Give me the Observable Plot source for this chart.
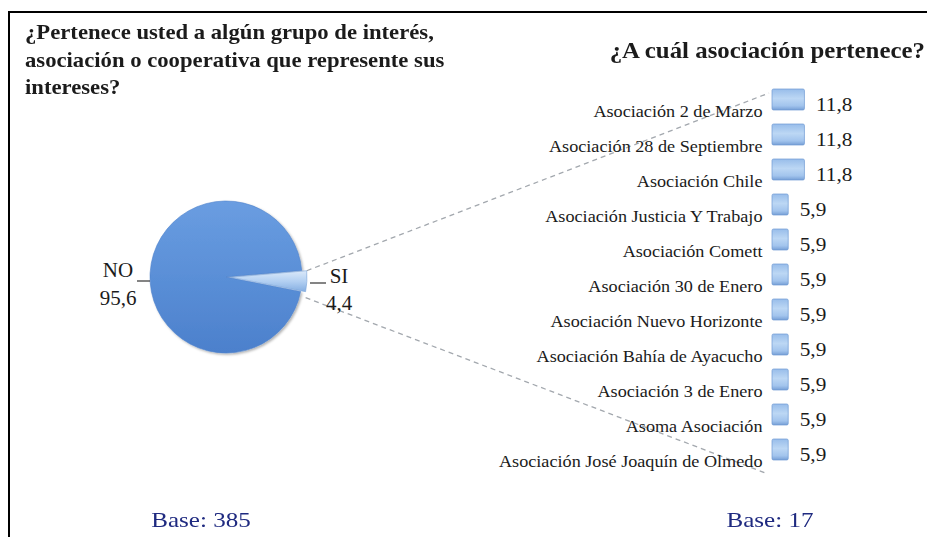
<!DOCTYPE html>
<html>
<head>
<meta charset="utf-8">
<script src="https://cdn.jsdelivr.net/npm/d3@7"></script>
<script src="https://cdn.jsdelivr.net/npm/@observablehq/plot@0.6"></script>
<style>
  html, body { margin: 0; padding: 0; background: #fff; }
  #wrap { position: relative; width: 927px; height: 537px; overflow: hidden; background: #fff; font-family: "Liberation Serif", "DejaVu Serif", "Times New Roman", Tinos, serif; color: #1b1b1b; }
  #frame { position: absolute; left: 8px; top: 11px; width: 960px; height: 560px; border-left: 2px solid #000; border-top: 2px solid #000; }
  #chart { position: absolute; left: 0; top: 0; }
  .t1 { position: absolute; left: 25px; top: 19px; font-weight: bold; font-size: 21px; line-height: 27.5px; white-space: nowrap; transform: scaleX(1.08); transform-origin: 0 0; }
  .t2 { position: absolute; right: 2px; top: 38.7px; font-weight: bold; font-size: 23px; line-height: 1; white-space: nowrap; transform: scaleX(1.08); transform-origin: 100% 0; }
  .base { position: absolute; width: 200px; text-align: center; font-size: 22px; line-height: 1; top: 508.6px; color: #1f2a80; transform: scaleX(1.14); transform-origin: 50% 0; }
</style>
</head>
<body>
<div id="wrap">
  <div id="frame"></div>
  <div id="chart"></div>
  <div class="t1" id="title1"></div>
  <div class="t2" id="title2"></div>
  <div class="base" id="base1" style="left:101px"></div>
  <div class="base" id="base2" style="left:670px"></div>
</div>
<script>
// ---- data ----
const pieLabels = ["NO", "SI"];
const pieValues = [95.6, 4.4];
const categories = [
  "Asociación 2 de Marzo",
  "Asociación 28 de Septiembre",
  "Asociación Chile",
  "Asociación Justicia Y Trabajo",
  "Asociación Comett",
  "Asociación 30 de Enero",
  "Asociación Nuevo Horizonte",
  "Asociación Bahía de Ayacucho",
  "Asociación 3 de Enero",
  "Asoma Asociación",
  "Asociación José Joaquín de Olmedo"
];
const values = [11.8, 11.8, 11.8, 5.9, 5.9, 5.9, 5.9, 5.9, 5.9, 5.9, 5.9];
const titleLeft = ["¿Pertenece usted a algún grupo de interés,", "asociación o cooperativa que represente sus", "intereses?"];
const titleRight = "¿A cuál asociación pertenece?";
const baseLabels = ["Base: 385", "Base: 17"];

// ---- build ----
const FONT = '"Liberation Serif", "DejaVu Serif", "Times New Roman", Tinos, serif';
const fmt = v => d3.format(".1f")(v).replace(".", ",");
const rows = categories.map((name, i) => ({name, value: values[i]}));
const pieData = pieLabels.map((label, i) => ({label, value: pieValues[i]}));

document.getElementById("title1").innerHTML = titleLeft.join("<br>");
document.getElementById("title2").textContent = titleRight;
document.getElementById("base1").textContent = baseLabels[0];
document.getElementById("base2").textContent = baseLabels[1];

// layout of the pie (pixels)
const CX = 226, CY = 277, R = 76, EXPLODE = 5;
const SI_MID = (93 / 180) * Math.PI; // clockwise from 12 o'clock

function defsMark() {
  const g = d3.create("svg:g");
  const defs = g.append("defs");
  const bg = defs.append("linearGradient").attr("id", "barGrad").attr("x1", 0).attr("y1", 0).attr("x2", 0).attr("y2", 1);
  [[0, "#98bdea"], [0.45, "#bcd7f4"], [0.8, "#a2c4ed"], [1, "#769fd6"]].forEach(([o, c]) =>
    bg.append("stop").attr("offset", o).attr("stop-color", c));
  const pg = defs.append("linearGradient").attr("id", "pieGrad").attr("x1", 0).attr("y1", 0).attr("x2", 0).attr("y2", 1);
  [[0, "#6a9de1"], [0.5, "#5a8fd7"], [1, "#4c80cc"]].forEach(([o, c]) =>
    pg.append("stop").attr("offset", o).attr("stop-color", c));
  const sg = defs.append("linearGradient").attr("id", "siGrad").attr("x1", 0).attr("y1", 0).attr("x2", 0).attr("y2", 1);
  [[0, "#dbe9f9"], [0.5, "#b3d0f2"], [1, "#85aee2"]].forEach(([o, c]) =>
    sg.append("stop").attr("offset", o).attr("stop-color", c));
  const f = defs.append("filter").attr("id", "shadow").attr("x", "-20%").attr("y", "-20%").attr("width", "150%").attr("height", "150%");
  f.append("feDropShadow").attr("dx", 1.5).attr("dy", 1.5).attr("stdDeviation", 1.2).attr("flood-color", "#000").attr("flood-opacity", 0.3);
  return g.node();
}

function pieMark(index, scales) {
  const g = d3.create("svg:g");
  const total = d3.sum(pieData, d => d.value);
  const before = pieData[0].value + pieData[1].value / 2;
  const start = SI_MID - (before / total) * 2 * Math.PI;
  const arcs = d3.pie().sort(null).value(d => d.value).startAngle(start).endAngle(start + 2 * Math.PI)(pieData);
  const arc = d3.arc().innerRadius(0).outerRadius(R);
  const si = arcs[1], no = arcs[0];
  const mid = (si.startAngle + si.endAngle) / 2;
  const ex = EXPLODE * Math.sin(mid), ey = -EXPLODE * Math.cos(mid);

  // connectors to the bar panel
  const xs = scales.x, ys = scales.y;
  const bw = (ys && typeof ys.bandwidth === "function") ? ys.bandwidth() : 21;
  const x0 = xs(0);
  const yTop = ys(categories[0]) + 4;
  const yBot = ys(categories[categories.length - 1]) + bw + 14;
  const pt = a => [CX + R * Math.sin(a) + ex, CY - R * Math.cos(a) + ey];
  const pTop = pt(si.startAngle), pBot = pt(si.endAngle);
  g.append("line").attr("x1", pTop[0]).attr("y1", pTop[1]).attr("x2", x0 - 3).attr("y2", yTop)
    .attr("stroke", "#a3a8ae").attr("stroke-width", 1.3).attr("stroke-dasharray", "5,4");
  g.append("line").attr("x1", pBot[0]).attr("y1", pBot[1] + 6).attr("x2", x0 - 4).attr("y2", yBot)
    .attr("stroke", "#a3a8ae").attr("stroke-width", 1.3).attr("stroke-dasharray", "5,4");

  // slices
  g.append("path").attr("d", arc(no)).attr("transform", `translate(${CX},${CY})`)
    .attr("fill", "url(#pieGrad)").attr("stroke", "#4f83cc").attr("stroke-width", 0.6).attr("filter", "url(#shadow)");
  g.append("path").attr("d", arc(si)).attr("transform", `translate(${CX + ex},${CY + ey})`)
    .attr("fill", "url(#siGrad)").attr("stroke", "#7ea6da").attr("stroke-width", 0.6);

  // labels + leader lines
  const tcol = "#1b1b1b";
  g.append("line").attr("x1", CX - R).attr("y1", CY + 4).attr("x2", CX - R - 13).attr("y2", CY + 4)
    .attr("stroke", "#333").attr("stroke-width", 1.2);
  const noT = g.append("text").attr("text-anchor", "middle").attr("font-size", 21).attr("fill", tcol)
    .attr("font-family", FONT);
  noT.append("tspan").attr("x", CX - R - 32).attr("y", CY).text(no.data.label);
  noT.append("tspan").attr("x", CX - R - 32).attr("y", CY + 28).text(fmt(no.data.value));

  g.append("line").attr("x1", CX + R + EXPLODE + 3).attr("y1", CY + 6).attr("x2", CX + R + 24).attr("y2", CY + 6)
    .attr("stroke", "#333").attr("stroke-width", 1.2);
  const siT = g.append("text").attr("text-anchor", "middle").attr("font-size", 21).attr("fill", tcol)
    .attr("font-family", FONT);
  siT.append("tspan").attr("x", CX + R + 37).attr("y", CY + 6).text(si.data.label);
  siT.append("tspan").attr("x", CX + R + 37).attr("y", CY + 33).text(fmt(si.data.value));
  return g.node();
}

const chart = Plot.plot({
  width: 927,
  height: 537,
  marginLeft: 772,
  marginRight: 122,
  marginTop: 80.4,
  marginBottom: 69.4,
  x: {domain: [0, 12], axis: null},
  y: {domain: categories, axis: null, paddingInner: 0.4, paddingOuter: 0.2},
  style: {fontFamily: FONT, background: "transparent", overflow: "visible", color: "#1b1b1b"},
  marks: [
    defsMark,
    pieMark,
    Plot.barX(rows, {x: "value", y: "name", fill: "url(#barGrad)", stroke: "#6f99d2", strokeWidth: 0.7, rx: 1.5, style: {filter: "url(#shadow)"}}),
    Plot.text(rows, {x: 0, y: "name", text: "name", textAnchor: "end", dx: -10, dy: 12, fontSize: 17, fill: "#1b1b1b"}),
    Plot.text(rows, {x: "value", y: "name", text: d => fmt(d.value), textAnchor: "start", dx: 11, dy: 5, fontSize: 19, fill: "#1b1b1b"})
  ]
});
chart.querySelectorAll("text").forEach(t => t.style.fontFamily = FONT);

// horizontal stretch of the text, as in the reference picture
function stretch(sel, s) {
  chart.querySelectorAll(sel).forEach(t => {
    const tr = t.getAttribute("transform");
    if (tr && tr.includes("translate")) {
      t.setAttribute("transform", tr + ` scale(${s},1)`);
    } else {
      const x = +(t.getAttribute("x") || 0);
      t.setAttribute("transform", `translate(${x},0) scale(${s},1) translate(${-x},0)`);
    }
  });
}
stretch('g[font-size="17"] text', 1.07);
stretch('g[font-size="19"] text', 1.12);
document.getElementById("chart").appendChild(chart);
</script>
</body>
</html>
